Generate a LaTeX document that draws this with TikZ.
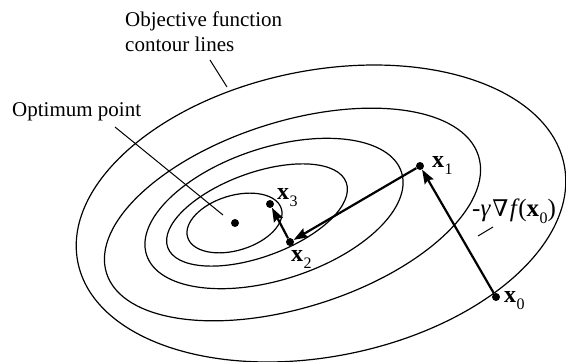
\documentclass[tikz,border=0pt]{standalone}
\usepackage{fontspec}
\setmainfont{Liberation Serif}
\newfontfamily\nablafont{DejaVu Serif}
\usetikzlibrary{arrows.meta}
\newcommand{\vecx}[1]{\textbf{x}\kern0.5pt\raisebox{-6.5pt}{\fontsize{16}{16}\selectfont #1}}
\begin{document}
\begin{tikzpicture}[x=1pt,y=1pt,
  contour/.style={line width=1.2pt},
  gradstep/.style={line width=2.2pt, -{Stealth[length=14pt,width=10pt,inset=2pt]}},
  dotpt/.style={circle, fill, inner sep=0pt, minimum size=8pt},
  leader/.style={line width=1pt},
  lbl/.style={font=\fontsize{21}{25}\selectfont, inner sep=0pt},
  mlbl/.style={font=\fontsize{24}{25}\selectfont, inner sep=0pt},
  glbl/.style={font=\fontsize{25}{25}\selectfont, inner sep=0pt},
]
\useasboundingbox (0,0) rectangle (566,362);
% contour lines
\draw[contour, rotate around={11.35:(321,148.5)}] (321,148.5) ellipse [x radius=248pt, y radius=143pt];
\draw[contour, rotate around={17.5:(292.5,147.5)}] (292.5,147.5) ellipse [x radius=195pt, y radius=93pt];
\draw[contour, rotate around={18:(274,148.5)}] (274,148.5) ellipse [x radius=134pt, y radius=66pt];
\draw[contour, rotate around={20:(257,147)}] (257,147) ellipse [x radius=95pt, y radius=42pt];
\draw[contour, rotate around={17:(234.5,139)}] (234.5,139) ellipse [x radius=49pt, y radius=27.4pt];
% points
\node[dotpt] (opt) at (235,139) {};
\node[dotpt] (x3) at (270,158) {};
\node[dotpt] (x2) at (290,120) {};
\node[dotpt] (x1) at (420,196) {};
\node[dotpt] (x0) at (496,65) {};
% steps
\draw[gradstep] (x0) -- (x1);
\draw[gradstep] (x1) -- (x2);
\draw[gradstep] (x2) -- (x3);
% labels
\node[mlbl, anchor=base west] (lx0) at (504,59) {\vecx{0}};
\node[mlbl, anchor=base west] (lx1) at (432,194) {\vecx{1}};
\node[mlbl, anchor=base west] (lx2) at (291,100) {\vecx{2}};
\node[mlbl, anchor=base west] (lx3) at (277,162) {\vecx{3}};
\node[glbl, anchor=base west] (lg) at (472,145) {-{\itshape γ}\kern2pt{\nablafont\fontsize{23}{23}\selectfont ∇}\kern1.5pt{\itshape f}\kern1.5pt(\vecx{0})};
\node[lbl, anchor=base west, align=left] (lobj) at (125,310) {Objective function\\contour lines};
\node[lbl, anchor=base west] (lopt) at (12,245) {Optimum point};
% leaders
\coordinate (objA) at (210,302);
\coordinate (objB) at (227,275);
\coordinate (optA) at (115,235);
\coordinate (optB) at (223,147);
\coordinate (gA) at (478,126);
\coordinate (gB) at (493,135);
\draw[leader] (objA) -- (objB);
\draw[leader] (optA) -- (optB);
\draw[leader] (gA) -- (gB);
\end{tikzpicture}
\end{document}
